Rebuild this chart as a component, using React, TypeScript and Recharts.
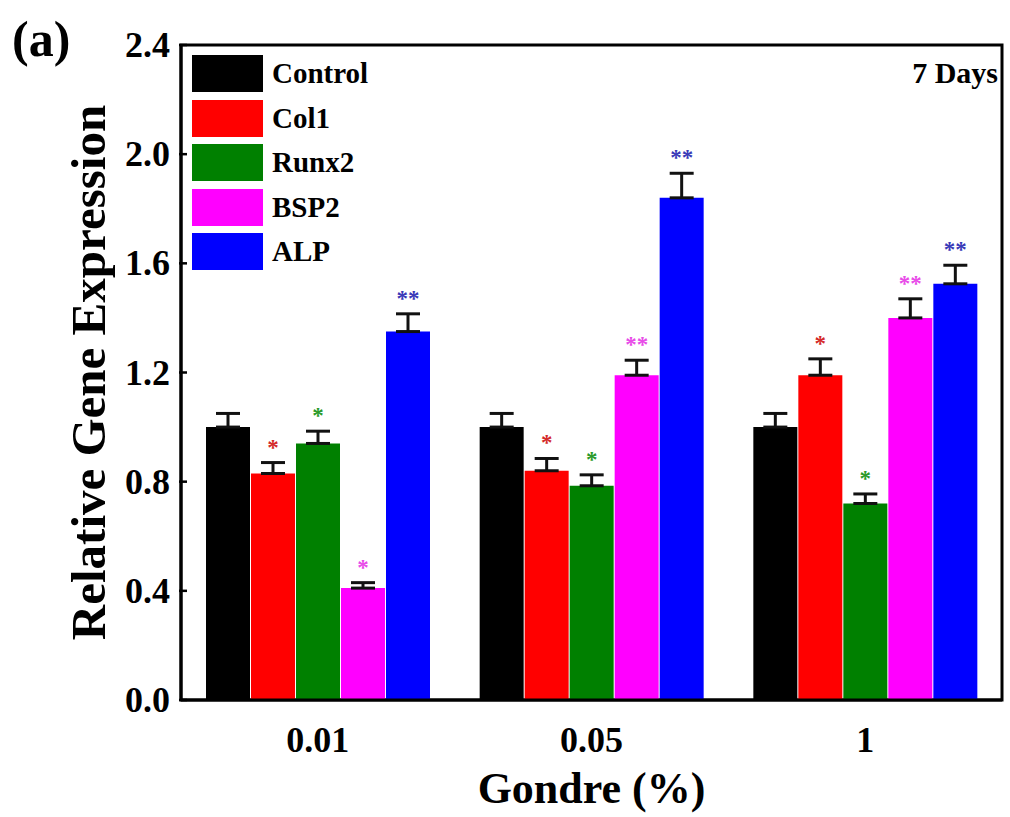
import { BarChart, Bar, XAxis, YAxis, ErrorBar, LabelList, Legend, ReferenceArea } from "recharts";

const categories = ["0.01", "0.05", "1"];
const seriesNames = ["Control", "Col1", "Runx2", "BSP2", "ALP"];

const control = [1.0, 1.0, 1.0];
const controlErr = [0.05, 0.05, 0.05];
const col1 = [0.83, 0.84, 1.19];
const col1Err = [0.04, 0.045, 0.06];
const runx2 = [0.94, 0.785, 0.72];
const runx2Err = [0.045, 0.04, 0.035];
const bsp2 = [0.41, 1.19, 1.4];
const bsp2Err = [0.02, 0.055, 0.07];
const alp = [1.35, 1.84, 1.525];
const alpErr = [0.065, 0.09, 0.068];

// significance marks above each bar
const controlSig = ["", "", ""];
const col1Sig = ["*", "*", "*"];
const runx2Sig = ["*", "*", "*"];
const bsp2Sig = ["*", "**", "**"];
const alpSig = ["**", "**", "**"];

const yTicks = [0, 0.4, 0.8, 1.2, 1.6, 2.0, 2.4];

const colors = ["#000000", "#ff0000", "#008000", "#ff00ff", "#0000ff"];
const starColors = ["#000000", "#d42a2a", "#2a9a2a", "#e84ce8", "#3a3ab8"];

const values = [control, col1, runx2, bsp2, alp];
const errors = [controlErr, col1Err, runx2Err, bsp2Err, alpErr];
const sigs = [controlSig, col1Sig, runx2Sig, bsp2Sig, alpSig];

const rows = categories.map((c, i) => {
  const row: Record<string, any> = { gondre: c };
  seriesNames.forEach((name, s) => {
    row[name] = values[s][i];
    row[name + "Err"] = [0, errors[s][i]];
  });
  return row;
});

const FONT = "'Liberation Serif', 'Times New Roman', serif";

function YTick({ x, y, payload }: any) {
  return (
    <g>
      <line x1={x} x2={x + 8} y1={y} y2={y} stroke="#000" strokeWidth={2.5} />
      <text x={x - 9} y={y + 12} textAnchor="end" fontFamily={FONT} fontWeight="bold" fontSize={36} fill="#000">
        {Number(payload.value).toFixed(1)}
      </text>
    </g>
  );
}

function XTick({ x, y, payload }: any) {
  return (
    <text x={x} y={y + 50} textAnchor="middle" fontFamily={FONT} fontWeight="bold" fontSize={36} fill="#000">
      {payload.value}
    </text>
  );
}

function makeStars(s: number) {
  return (p: any) => {
    const vb = p.viewBox || p;
    const idx = p.index;
    const mark = sigs[s][idx];
    if (!mark) return null;
    const v = Number(values[s][idx]);
    const pxPerUnit = vb.height / v;
    const capY = vb.y - errors[s][idx] * pxPerUnit;
    return (
      <text
        x={vb.x + vb.width / 2}
        y={capY - 8}
        textAnchor="middle"
        fontFamily={FONT}
        fontWeight="bold"
        fontSize={23}
        fill={starColors[s]}
      >
        {mark}
      </text>
    );
  };
}

function LegendBox() {
  return (
    <div style={{ fontFamily: FONT }}>
      {seriesNames.map((name, s) => (
        <div key={name} style={{ display: "flex", alignItems: "center", height: 37, marginBottom: 7.5 }}>
          <div style={{ width: 71, height: 37, background: colors[s] }} />
          <span style={{ marginLeft: 9, fontSize: 29, fontWeight: "bold", color: "#000" }}>{name}</span>
        </div>
      ))}
    </div>
  );
}

export default function App() {
  return (
    <div style={{ position: "absolute", left: 0, top: 0, width: 1010, height: 817, background: "#fff" }}>
      <BarChart
        width={1010}
        height={817}
        data={rows}
        margin={{ top: 45, right: 8, bottom: 0, left: 0 }}
        barGap={1}
        barSize={44}
      >
        <XAxis
          dataKey="gondre"
          height={117}
          tickSize={0}
          tickLine={false}
          axisLine={{ stroke: "#000", strokeWidth: 3 }}
          tick={<XTick />}
          label={{
            content: (p: any) => (
              <text
                x={p.viewBox.x + p.viewBox.width / 2}
                y={803}
                textAnchor="middle"
                fontFamily={FONT}
                fontWeight="bold"
                fontSize={44}
                fill="#000"
              >
                Gondre (%)
              </text>
            ),
          }}
        />
        <YAxis
          width={181}
          domain={[0, 2.4]}
          ticks={yTicks}
          interval={0}
          tickSize={0}
          tickLine={false}
          axisLine={{ stroke: "#000", strokeWidth: 3 }}
          tick={<YTick />}
          label={{
            content: (p: any) => {
              const cx = 88;
              const cy = p.viewBox.y + p.viewBox.height / 2;
              return (
                <text
                  x={cx}
                  y={cy}
                  transform={`rotate(-90, ${cx}, ${cy})`}
                  textAnchor="middle"
                  dominantBaseline="central"
                  fontFamily={FONT}
                  fontWeight="bold"
                  fontSize={49}
                  fill="#000"
                >
                  Relative Gene Expression
                </text>
              );
            },
          }}
        />
        <Legend
          layout="vertical"
          align="center"
          verticalAlign="middle"
          content={() => <LegendBox />}
          wrapperStyle={{ left: 192, top: 55, width: "auto", height: "auto" }}
        />
        {seriesNames.map((name, s) => (
          <Bar key={name} dataKey={name} fill={colors[s]} isAnimationActive={false}>
            <ErrorBar dataKey={name + "Err"} width={12} strokeWidth={3} stroke="#111" direction="y" />
            <LabelList dataKey={name} content={makeStars(s)} />
          </Bar>
        ))}
        <ReferenceArea y1={0} y2={2.4} fill="none" stroke="#000" strokeWidth={3} fillOpacity={0} />
      </BarChart>
      <svg width={1010} height={817} style={{ position: "absolute", left: 0, top: 0, pointerEvents: "none" }}>
        <text x={12} y={56} fontFamily={FONT} fontWeight="bold" fontSize={50} fill="#000">
          (a)
        </text>
        <text x={998} y={83} textAnchor="end" fontFamily={FONT} fontWeight="bold" fontSize={30} fill="#000">
          7 Days
        </text>
      </svg>
    </div>
  );
}
